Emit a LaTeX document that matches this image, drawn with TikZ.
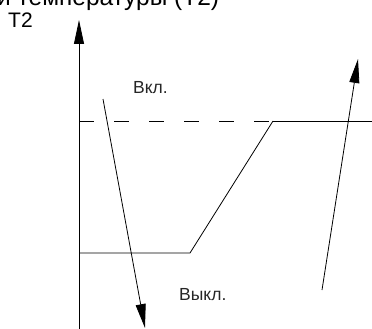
\documentclass[tikz,border=0pt]{standalone}
\usepackage{fontspec}
\setmainfont{Liberation Sans}
\usetikzlibrary{arrows.meta}
\begin{document}
\begin{tikzpicture}[x=1pt,y=-1pt,
  ln/.style={draw=black,line width=0.8pt},
  arr/.style={ln,-{Triangle[length=24pt,width=10pt]}},
  dashln/.style={ln,dash pattern=on 15pt off 20pt},
  lbl/.style={inner sep=0pt,text=black!85,font=\fontsize{17.5}{21}\selectfont},
  ttl/.style={inner sep=0pt,text=black,font=\fontsize{24.5}{28}\selectfont},
  axl/.style={inner sep=0pt,text=black,font=\fontsize{21}{24}\selectfont}]
\useasboundingbox (0,0) rectangle (372,329);
% coordinates
\coordinate (axB) at (79,332);
\coordinate (axT) at (79,20);
\coordinate (dL) at (79,121);
\coordinate (dR) at (273,121);
\coordinate (hR) at (372,121);
\coordinate (lL) at (79,253);
\coordinate (lR) at (190,253);
\coordinate (dnS) at (103,99);
\coordinate (dnE) at (145,328);
\coordinate (upS) at (322,290);
\coordinate (upE) at (358,59);
% texts
\node[ttl,anchor=base west] (title) at (-3,6) {и температуры (Т2)};
\node[axl,anchor=base west] (t2) at (8,28) {T2};
\node[lbl,anchor=base west] (on) at (133,93) {Вкл.};
\node[lbl,anchor=base west] (off) at (179,300) {Выкл.};
% lines
\draw[arr] (axB) -- (axT);
\draw[dashln] (dL) -- (dR);
\draw[ln] (dR) -- (hR);
\draw[ln] (lL) -- (lR) -- (dR);
\draw[arr] (dnS) -- (dnE);
\draw[arr] (upS) -- (upE);
\end{tikzpicture}
\end{document}
